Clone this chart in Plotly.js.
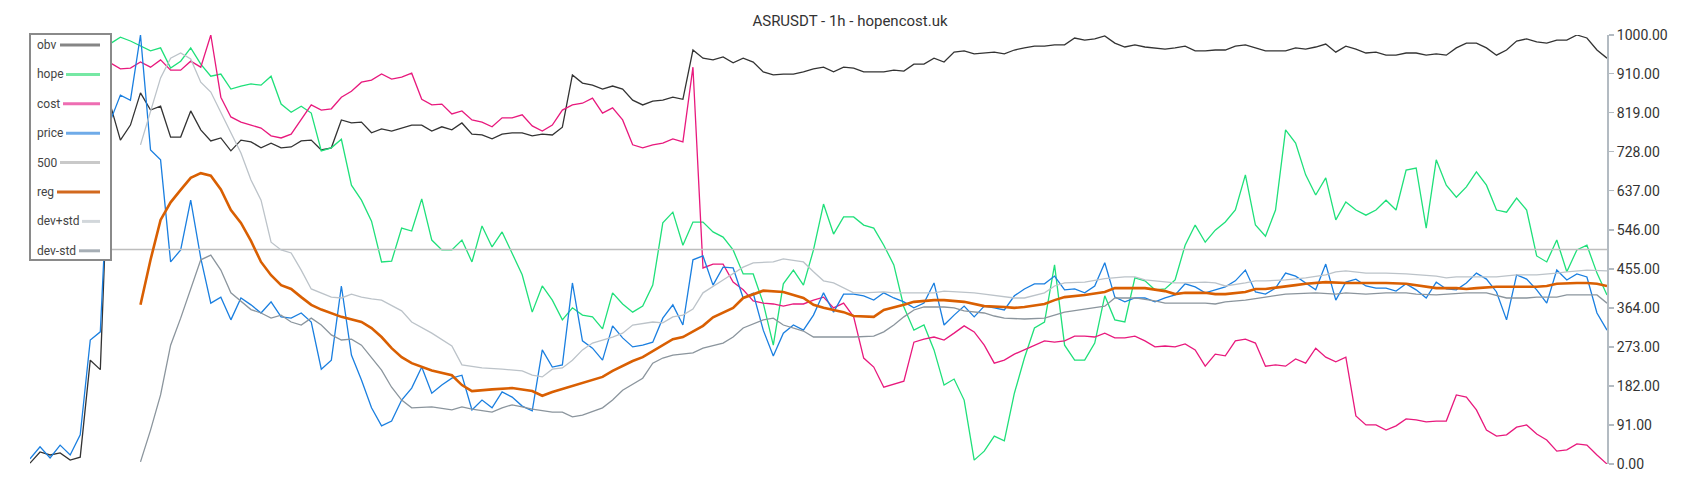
<!DOCTYPE html>
<html><head><meta charset="utf-8">
<script src="https://cdn.plot.ly/plotly-3.0.1.min.js"></script>
<style>html,body{margin:0;padding:0;background:#fff}#chart{width:1700px;height:500px}</style>
</head><body><div id="chart"></div>
<script>
// ---- data (hourly index 0..157, values on 0..1000 normalised scale) ----
const obv = [2,28,21,26,9,16,242,220,837,755,
790,865,825,834,762,762,823,779,753,760,
730,755,751,737,748,737,739,753,755,732,
737,802,795,797,772,781,776,783,790,790,
776,786,779,795,769,767,758,769,772,772,
765,769,767,785,907,888,883,874,881,874,
848,837,846,848,855,850,965,946,942,949,
935,946,937,914,907,909,909,914,921,925,
914,925,923,914,914,914,918,916,932,932,
946,937,960,963,956,958,960,956,965,970,
974,974,977,977,993,988,991,998,981,972,
977,972,970,967,970,974,963,963,965,965,
974,977,970,963,963,963,970,967,972,979,
960,974,967,958,960,953,953,958,958,953,
956,953,970,981,981,970,953,965,986,991,
984,981,988,988,1000,993,965,946];

const hope = [940,955,935,960,945,955,935,950,980,995,
986,974,963,970,923,939,970,932,904,909,
874,881,886,883,904,839,820,834,818,730,
737,757,650,615,566,471,473,550,543,618,
522,499,499,522,471,555,506,541,492,441,
354,415,382,336,364,347,343,315,399,373,
354,368,417,562,587,510,564,564,541,529,
499,443,443,375,277,420,452,417,499,606,
536,576,576,557,550,510,464,366,312,324,
266,184,198,149,9,30,65,54,165,247,
317,331,464,277,242,242,282,392,336,331,
434,427,406,408,429,510,557,517,545,564,
592,674,557,531,592,779,748,674,627,667,
569,611,592,580,592,615,592,685,690,550,
709,650,622,646,681,650,592,587,620,592,
485,471,522,448,499,510,445,394];

const cost = [905,915,900,920,910,925,915,905,935,921,
923,937,925,942,918,918,939,925,1000,855,
809,797,790,783,765,760,769,802,837,825,
828,855,869,890,895,909,897,902,911,850,
837,839,816,823,802,797,786,807,807,814,
788,776,790,825,837,841,853,818,830,802,
744,737,744,748,758,751,925,457,466,466,
424,406,380,375,373,368,373,373,382,389,
364,375,343,247,226,179,186,193,284,291,
296,289,305,322,308,277,235,242,256,266,
277,287,284,287,298,298,296,305,294,294,
298,287,273,275,273,280,266,228,256,252,
287,291,282,228,231,228,245,235,270,249,
238,249,112,91,91,79,89,105,103,98,
100,100,161,156,126,79,65,68,86,91,
70,56,30,33,47,44,21,0];

const price = [12,40,14,44,21,68,289,308,800,860,
848,1000,732,709,471,499,615,480,375,389,
336,387,371,352,378,343,340,352,331,221,
242,415,254,196,131,89,100,149,177,226,
165,184,200,207,126,149,131,168,156,135,
124,266,226,231,422,287,270,242,322,294,
273,277,284,340,371,324,476,485,417,459,
457,387,398,312,252,305,324,312,347,399,
354,396,396,392,382,399,387,378,364,375,
422,324,347,368,343,368,364,359,392,408,
420,420,438,406,408,399,415,469,389,378,
387,387,378,387,394,420,413,399,406,413,
427,452,401,396,410,445,438,422,406,466,
382,424,431,415,410,410,403,420,406,387,
424,408,406,422,445,431,401,336,441,431,
406,375,452,429,443,436,352,312];

const levelT = [0,157];
const level500 = [500,500];

const regT = [11,12,13,14,15,16,17,18,19,20,21,22,23,24,25,26,27,28,29,31,33,34,35,36,37,38,40,42,43,44,46,48,50,51,52,53,54,55,57,58,60,61,62,63,64,65,67,68,70,71,73,75,76,77,78,79,81,82,84,85,87,88,90,91,93,94,95,97,98,99,101,102,103,105,107,108,110,111,113,114,115,117,118,119,121,122,123,125,126,127,129,131,133,135,137,138,139,140,142,143,144,146,148,150,151,152,154,155,156,157];
const reg = [371,476,569,610,639,667,678,672,640,592,562,520,471,440,417,408,389,371,360,343,331,317,296,270,249,235,218,207,184,170,174,177,170,159,168,175,182,189,203,217,240,249,263,277,291,296,322,342,364,387,404,401,394,387,371,364,354,345,343,359,371,378,382,382,378,373,368,366,364,366,373,382,389,394,401,410,410,410,403,396,399,399,396,396,401,408,408,413,417,420,424,422,422,422,420,417,413,410,410,408,410,413,413,413,415,420,422,422,420,415];

const devPlusT = [11,12,13,14,15,16,17,18,19,20,
21,22,23,24,25,26,27,28,30,31,
32,33,34,35,37,38,40,42,43,45,
47,49,50,51,52,53,54,55,56,58,
59,60,62,63,64,65,66,67,69,70,
71,72,74,75,77,78,79,80,81,82,
83,85,86,87,89,90,91,93,94,95,
97,98,99,101,102,103,105,107,109,110,
111,113,114,115,117,118,119,121,122,123,
125,127,128,129,130,131,133,135,137,138,
140,141,142,144,146,148,150,152,153,155,
157];
const devPlus = [744,825,900,946,958,944,890,867,818,772,
725,662,615,517,499,492,452,408,389,387,
396,389,385,382,357,331,305,275,231,224,
221,217,207,203,221,224,242,266,282,296,
305,324,331,329,343,347,361,399,429,445,
459,469,471,478,471,448,427,422,410,399,
399,401,399,399,399,399,403,401,399,396,
389,387,387,399,415,422,424,432,436,436,
429,424,422,422,424,422,415,422,427,427,
429,434,438,441,448,450,445,445,443,441,
438,434,436,436,436,441,441,445,448,452,
450];

const devMinusT = [11,12,13,14,15,16,17,18,19,20,22,23,
24,25,26,27,28,29,30,31,32,33,
34,35,36,37,38,40,42,43,44,46,
47,48,49,50,52,53,54,55,57,58,
59,61,62,63,64,66,67,69,70,71,
73,74,75,76,77,78,79,82,84,85,
86,87,88,89,91,92,93,95,96,97,
99,101,102,103,105,107,108,110,112,113,
115,117,118,119,121,122,123,125,127,128,
130,131,133,135,137,138,140,141,143,145,
147,149,150,152,153,154,156,157];
const devMinus = [5,79,161,277,340,406,476,487,452,399,360,352,
340,347,331,324,340,324,301,289,291,277,
249,219,179,149,131,133,126,133,128,121,
131,138,133,128,121,121,110,114,131,149,
172,200,235,247,254,259,270,282,296,317,
336,340,324,317,310,296,296,296,298,308,
324,343,359,366,366,364,357,352,345,340,
338,340,347,354,361,368,387,387,380,375,
375,375,373,378,382,385,389,396,399,399,
396,399,396,399,399,396,394,396,399,399,
387,387,389,389,394,394,394,375];

const yTickVals = [0,91,182,273,364,455,546,637,728,819,910,1000];
const yTickText = ['0.00','91.00','182.00','273.00','364.00','455.00','546.00','637.00','728.00','819.00','910.00','1000.00'];
const seriesNames = ['obv','hope','cost','price','500','reg','dev+std','dev-std'];

// ---- styles ----
const lineColors  = ['#333333','#1fe07a','#e8197d','#1a7fe0','#bdbdbd','#d95f02','#bcc3c9','#8b959d'];
const legendColors= ['#858585','#76e8a4','#ee6db2','#6fabe8','#c9c9c9','#d2691e','#d2d7db','#a6aeb5'];
const lineWidths  = [1.3,1.3,1.3,1.3,1.6,2.6,1.3,1.3];
const hours = obv.map((_, i) => i);

const xs = [hours, hours, hours, hours, levelT, regT, devPlusT, devMinusT];
const ys = [obv, hope, cost, price, level500, reg, devPlus, devMinus];
const traces = seriesNames.map((n, k) => ({
  type: 'scatter', mode: 'lines', name: n, x: xs[k], y: ys[k],
  line: {color: lineColors[k], width: lineWidths[k]}, hoverinfo: 'skip'
}));

const W = 1700, H = 500, L = 30, R = 93, T = 35, B = 36;
const pw = W - L - R, ph = H - T - B;
const px = p => (p - L) / pw;
const py = p => (H - B - p) / ph;

const legTop = 34, legBottom = 260, legLeft = 30, legRight = 111;
const legRow0 = 45, legStep = 29.4;
const symStart = [60, 66, 63, 66, 60, 57, 82, 79], symEnd = 100;

const shapes = [{type: 'rect', xref: 'paper', yref: 'paper', x0: px(legLeft), x1: px(legRight),
  y0: py(legBottom), y1: py(legTop), fillcolor: '#ffffff', line: {color: '#8a8a8a', width: 2}, layer: 'above'}];
const annotations = [];
seriesNames.forEach((n, k) => {
  const yc = legRow0 + k * legStep;
  annotations.push({xref: 'paper', yref: 'paper', x: px(35), y: py(yc), xanchor: 'left', yanchor: 'middle',
    text: n, showarrow: false, font: {family: 'Roboto, sans-serif', size: 12, color: '#444'}});
  shapes.push({type: 'line', xref: 'paper', yref: 'paper', x0: px(symStart[k]), x1: px(symEnd), y0: py(yc), y1: py(yc),
    line: {color: legendColors[k], width: 3}, layer: 'above'});
});

const layout = {
  width: W, height: H, margin: {l: L, r: R, t: T, b: B, pad: 0},
  paper_bgcolor: '#ffffff', plot_bgcolor: '#ffffff',
  font: {family: 'Roboto, sans-serif', color: '#333'},
  title: {text: 'ASRUSDT - 1h - hopencost.uk', x: 0.5, xref: 'container', xanchor: 'center',
    y: 1 - 21 / H, yref: 'container', yanchor: 'middle', font: {size: 15, color: '#333'}},
  showlegend: false,
  xaxis: {range: [0, 157], visible: false, fixedrange: true},
  yaxis: {range: [0, 1000], side: 'right', tickvals: yTickVals, ticktext: yTickText,
    showgrid: false, zeroline: false, showline: true, linecolor: '#b3bbc2', linewidth: 2,
    ticks: 'outside', ticklen: 5, tickwidth: 1.5, tickcolor: '#b3bbc2',
    tickfont: {size: 14, color: '#333'}, fixedrange: true},
  shapes: shapes, annotations: annotations
};
Plotly.newPlot('chart', traces, layout, {displayModeBar: false, staticPlot: true});
</script>
</body></html>
